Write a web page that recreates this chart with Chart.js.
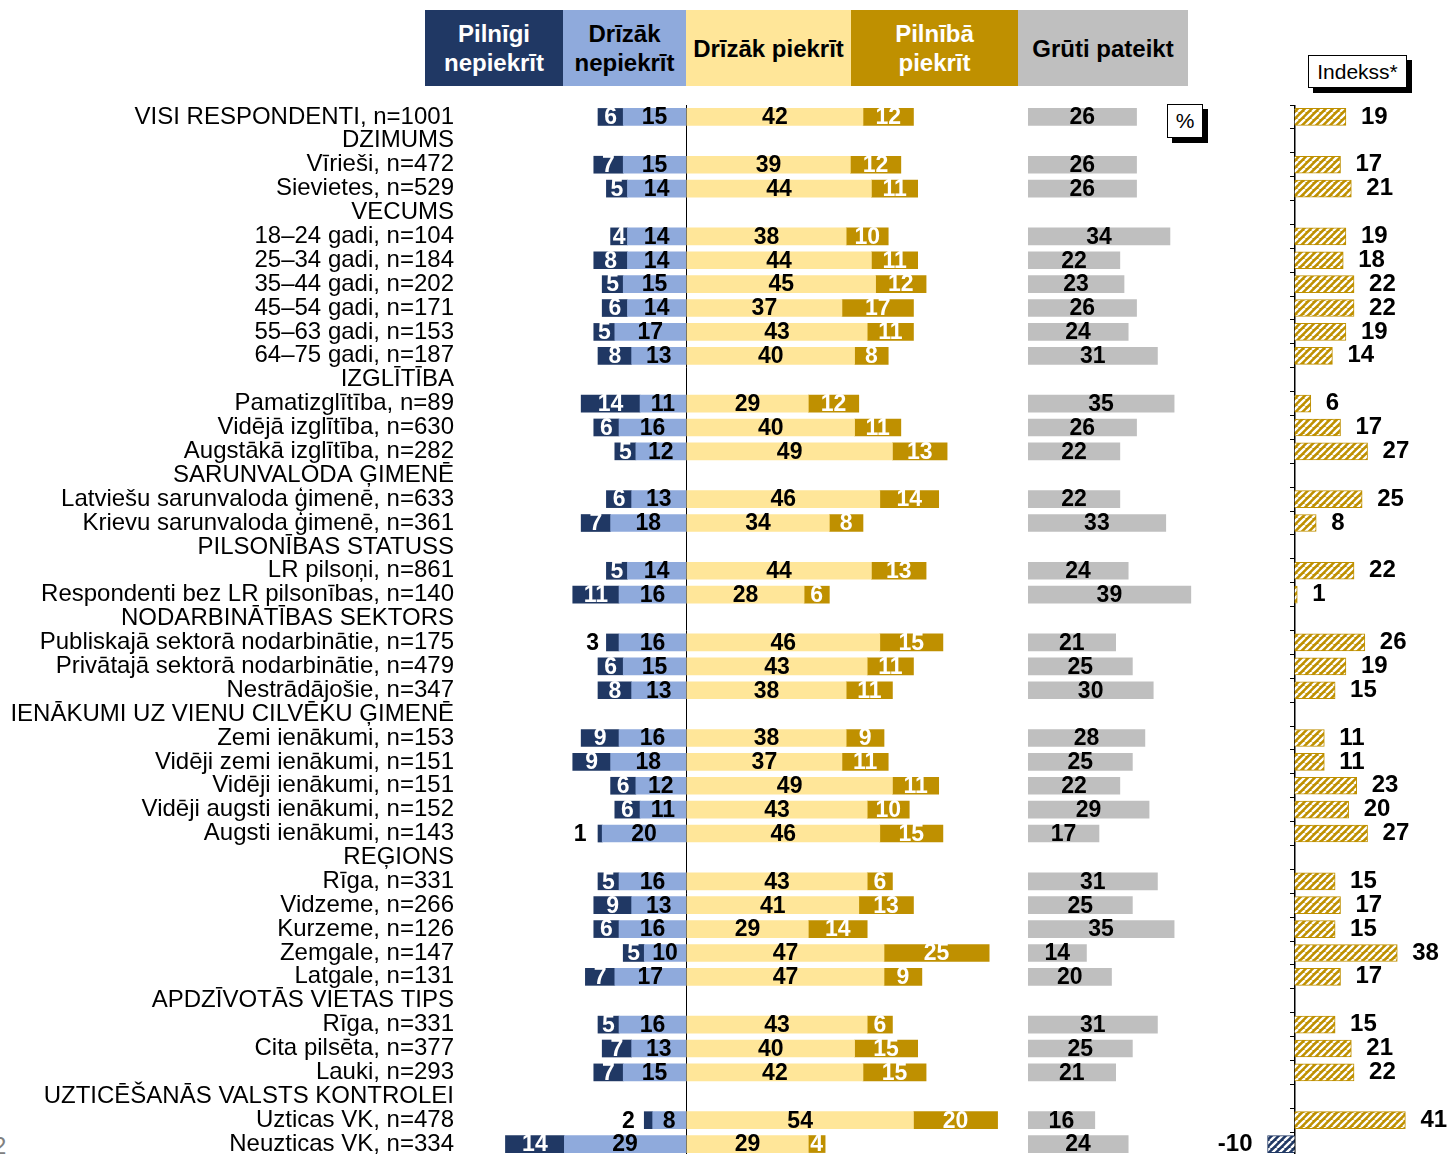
<!DOCTYPE html>
<html>
<head>
<meta charset="utf-8">
<script src="https://cdn.jsdelivr.net/npm/chart.js@4.4.1/dist/chart.umd.min.js"></script>
<style>
  body { margin: 0; width: 1447px; height: 1154px; overflow: hidden; background: #fff;
         font-family: "Liberation Sans", Arial, sans-serif; }
  .abs { position: absolute; }
  .head { position: absolute; top: 10px; height: 76px; display: flex; align-items: center;
          justify-content: center; text-align: center; font-weight: bold; font-size: 24px; line-height: 29px; }
  .box { position: absolute; background: #fff; border: 1px solid #000; box-shadow: 5px 5px 0 #000;
         display: flex; align-items: center; justify-content: center; }
</style>
</head>
<body>
<div class="head" style="left:425px;width:138px;background:#203864;color:#fff;">Pilnīgi<br>nepiekrīt</div>
<div class="head" style="left:563px;width:123px;background:#8faadc;color:#000;">Drīzāk<br>nepiekrīt</div>
<div class="head" style="left:686px;width:165px;background:#ffe699;color:#000;">Drīzāk piekrīt</div>
<div class="head" style="left:851px;width:167px;background:#bf9000;color:#fff;">Pilnībā<br>piekrīt</div>
<div class="head" style="left:1018px;width:170px;background:#bfbfbf;color:#000;">Grūti pateikt</div>
<div class="box" style="left:1308px;top:55px;width:97px;height:31px;font-size:21px;">Indekss*</div>
<div class="box" style="left:1167px;top:104px;width:34px;height:32px;font-size:21px;">%</div>
<div class="abs" style="left:-7px;top:1132px;font-size:24px;color:#808080;">2</div>

<canvas id="mainChart" class="abs" style="left:0;top:105px;" width="1006" height="1051"></canvas>
<canvas id="grutiChart" class="abs" style="left:1028px;top:105px;" width="167" height="1051"></canvas>
<canvas id="indexChart" class="abs" style="left:1200px;top:105px;" width="247" height="1051"></canvas>

<script>
const categories = [
  "VISI RESPONDENTI, n=1001",
  "DZIMUMS",
  "Vīrieši, n=472",
  "Sievietes, n=529",
  "VECUMS",
  "18–24 gadi, n=104",
  "25–34 gadi, n=184",
  "35–44 gadi, n=202",
  "45–54 gadi, n=171",
  "55–63 gadi, n=153",
  "64–75 gadi, n=187",
  "IZGLĪTĪBA",
  "Pamatizglītība, n=89",
  "Vidējā izglītība, n=630",
  "Augstākā izglītība, n=282",
  "SARUNVALODA ĢIMENĒ",
  "Latviešu sarunvaloda ģimenē, n=633",
  "Krievu sarunvaloda ģimenē, n=361",
  "PILSONĪBAS STATUSS",
  "LR pilsoņi, n=861",
  "Respondenti bez LR pilsonības, n=140",
  "NODARBINĀTĪBAS SEKTORS",
  "Publiskajā sektorā nodarbinātie, n=175",
  "Privātajā sektorā nodarbinātie, n=479",
  "Nestrādājošie, n=347",
  "IENĀKUMI UZ VIENU CILVĒKU ĢIMENĒ",
  "Zemi ienākumi, n=153",
  "Vidēji zemi ienākumi, n=151",
  "Vidēji ienākumi, n=151",
  "Vidēji augsti ienākumi, n=152",
  "Augsti ienākumi, n=143",
  "REĢIONS",
  "Rīga, n=331",
  "Vidzeme, n=266",
  "Kurzeme, n=126",
  "Zemgale, n=147",
  "Latgale, n=131",
  "APDZĪVOTĀS VIETAS TIPS",
  "Rīga, n=331",
  "Cita pilsēta, n=377",
  "Lauki, n=293",
  "UZTICĒŠANĀS VALSTS KONTROLEI",
  "Uzticas VK, n=478",
  "Neuzticas VK, n=334"
];

// null = group heading row
const pilnigiNepiekrit = [6,null,7,5,null,4,8,5,6,5,8,null,14,6,5,null,6,7,null,5,11,null,3,6,8,null,9,9,6,6,1,null,5,9,6,5,7,null,5,7,7,null,2,14];
const drizakNepiekrit  = [15,null,15,14,null,14,14,15,14,17,13,null,11,16,12,null,13,18,null,14,16,null,16,15,13,null,16,18,12,11,20,null,16,13,16,10,17,null,16,13,15,null,8,29];
const drizakPiekrit    = [42,null,39,44,null,38,44,45,37,43,40,null,29,40,49,null,46,34,null,44,28,null,46,43,38,null,38,37,49,43,46,null,43,41,29,47,47,null,43,40,42,null,54,29];
const pilnibaPiekrit   = [12,null,12,11,null,10,11,12,17,11,8,null,12,11,13,null,14,8,null,13,6,null,15,11,11,null,9,11,11,10,15,null,6,13,14,25,9,null,6,15,15,null,20,4];
const grutiPateikt     = [26,null,26,26,null,34,22,23,26,24,31,null,35,26,22,null,22,33,null,24,39,null,21,25,30,null,28,25,22,29,17,null,31,25,35,14,20,null,31,25,21,null,16,24];
const indekss          = [19,null,17,21,null,19,18,22,22,19,14,null,6,17,27,null,25,8,null,22,1,null,26,19,15,null,11,11,23,20,27,null,15,17,15,38,17,null,15,21,22,null,41,-10];

const FONT = '"Liberation Sans", Arial, sans-serif';
const NAVY = "#203864", BLUE = "#8faadc", YELLOW = "#ffe699", GOLD = "#bf9000", GREY = "#bfbfbf";

const neg = arr => arr.map(v => (v === null ? null : -v));

// value labels in the middle of each segment
const segmentLabels = {
  id: "segmentLabels",
  afterDatasetsDraw(chart) {
    const ctx = chart.ctx;
    ctx.save();
    ctx.textAlign = "center";
    ctx.textBaseline = "middle";
    ctx.font = "bold 23px " + FONT;
    chart.data.datasets.forEach((ds, i) => {
      chart.getDatasetMeta(i).data.forEach((bar, j) => {
        const v = ds.data[j];
        if (v === null) return;
        const shown = Math.abs(v);
        let x = (bar.x + bar.base) / 2;
        let color = ds.labelColor;
        if (ds.outsideUnder && shown < ds.outsideUnder) {
          x -= 20;
          color = "#000";
        }
        ctx.fillStyle = color;
        ctx.fillText(String(shown), x, bar.y + 1);
      });
    });
    ctx.restore();
  },
};

// index labels next to the bar end
const sideLabels = {
  id: "sideLabels",
  afterDatasetsDraw(chart) {
    const ctx = chart.ctx;
    ctx.save();
    ctx.textBaseline = "middle";
    ctx.font = "bold 24px " + FONT;
    ctx.fillStyle = "#000";
    const ds = chart.data.datasets[0];
    chart.getDatasetMeta(0).data.forEach((bar, j) => {
      const v = ds.data[j];
      if (v === null) return;
      if (v >= 0) {
        ctx.textAlign = "left";
        ctx.fillText(String(v), bar.x + 15, bar.y);
      } else {
        ctx.textAlign = "right";
        ctx.fillText(String(v), bar.x - 15, bar.y);
      }
    });
    ctx.restore();
  },
};

function hatch(color) {
  const s = 7;
  const c = document.createElement("canvas");
  c.width = c.height = s;
  const g = c.getContext("2d");
  g.fillStyle = color;
  g.fillRect(0, 0, s, s);
  g.strokeStyle = "#fff";
  g.lineWidth = 2.3;
  g.beginPath();
  for (const k of [-s, 0, s]) {
    g.moveTo(k, s);
    g.lineTo(k + s, 0);
  }
  g.stroke();
  return g.createPattern(c, "repeat");
}

Chart.defaults.font.family = FONT;

// main diverging chart
new Chart(document.getElementById("mainChart").getContext("2d"), {
  type: "bar",
  data: {
    labels: categories,
    datasets: [
      { label: "Drīzāk nepiekrīt", data: neg(drizakNepiekrit), backgroundColor: BLUE, labelColor: "#000" },
      { label: "Pilnīgi nepiekrīt", data: neg(pilnigiNepiekrit), backgroundColor: NAVY, labelColor: "#fff", outsideUnder: 4 },
      { label: "Drīzāk piekrīt", data: drizakPiekrit, backgroundColor: YELLOW, labelColor: "#000" },
      { label: "Pilnībā piekrīt", data: pilnibaPiekrit, backgroundColor: GOLD, labelColor: "#fff" },
    ],
  },
  plugins: [segmentLabels],
  options: {
    indexAxis: "y",
    responsive: false,
    animation: false,
    devicePixelRatio: 1,
    barThickness: 17,
    layout: { padding: 0 },
    plugins: { legend: { display: false }, tooltip: { enabled: false } },
    scales: {
      x: {
        stacked: true,
        min: -51.43,
        max: 76,
        afterBuildTicks: (scale) => { scale.ticks = [{ value: 0 }]; },
        afterFit: (scale) => { scale.height = 0; scale.paddingLeft = 0; scale.paddingRight = 0; },
        ticks: { display: false },
        grid: { color: "#000", lineWidth: 1, drawTicks: false },
        border: { display: false },
      },
      y: {
        stacked: true,
        afterFit: (scale) => { scale.width = 470; scale.paddingTop = 0; scale.paddingBottom = 0; },
        ticks: { autoSkip: false, padding: 8, color: "#000", font: { size: 24 } },
        grid: { display: false },
        border: { display: false },
      },
    },
  },
});

// "Grūti pateikt" column
new Chart(document.getElementById("grutiChart").getContext("2d"), {
  type: "bar",
  data: {
    labels: categories,
    datasets: [{ label: "Grūti pateikt", data: grutiPateikt, backgroundColor: GREY, labelColor: "#000" }],
  },
  plugins: [segmentLabels],
  options: {
    indexAxis: "y",
    responsive: false,
    animation: false,
    devicePixelRatio: 1,
    barThickness: 17,
    plugins: { legend: { display: false }, tooltip: { enabled: false } },
    scales: {
      x: { display: false, min: 0, max: 40 },
      y: { display: false },
    },
  },
});

// index column
const goldHatch = hatch(GOLD);
const navyHatch = hatch(NAVY);
new Chart(document.getElementById("indexChart").getContext("2d"), {
  type: "bar",
  data: {
    labels: categories,
    datasets: [{
      label: "Indekss*",
      data: indekss,
      backgroundColor: (c) => (c.raw < 0 ? navyHatch : goldHatch),
      borderColor: (c) => (c.raw < 0 ? NAVY : GOLD),
      borderWidth: 1,
    }],
  },
  plugins: [sideLabels],
  options: {
    indexAxis: "y",
    responsive: false,
    animation: false,
    devicePixelRatio: 1,
    barThickness: 17,
    plugins: { legend: { display: false }, tooltip: { enabled: false } },
    scales: {
      x: { display: false, min: -35, max: 56.4 },
      y: {
        position: { x: 0 },
        ticks: { display: false },
        grid: { drawOnChartArea: false, drawTicks: true, tickLength: 4, color: "#000" },
        border: { display: true, color: "#000", width: 1.5 },
      },
    },
  },
});
</script>
</body>
</html>
